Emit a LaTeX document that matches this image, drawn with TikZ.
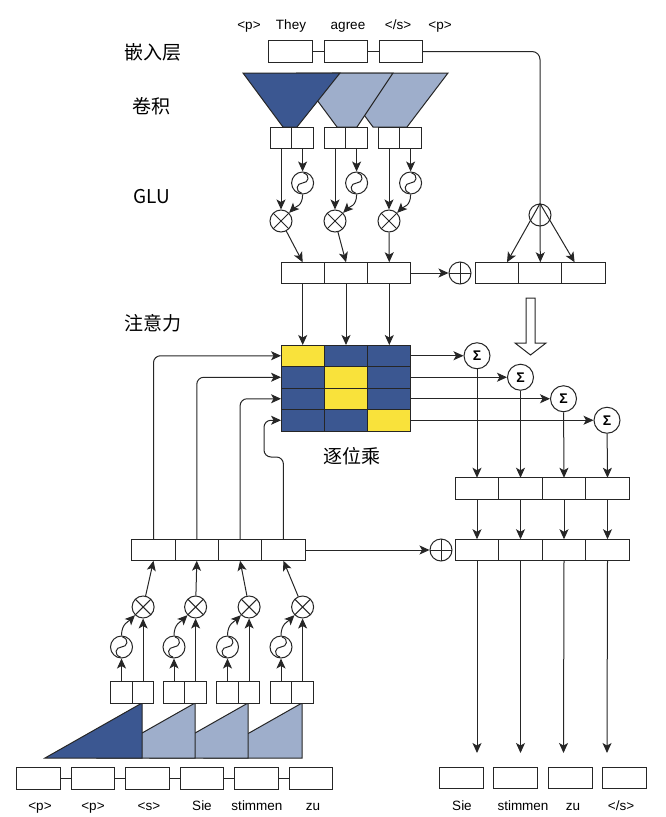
\documentclass[tikz,border=0pt]{standalone}
\usepackage{fontspec}
\setmainfont{Liberation Sans}
\newfontfamily\cjk{Noto Sans CJK SC}
\usepackage{tikz}
\usetikzlibrary{arrows.meta,positioning}
\definecolor{linec}{HTML}{262626}
\definecolor{darkblue}{HTML}{3B5791}
\definecolor{lightblue}{HTML}{9EAECB}
\definecolor{hotyellow}{HTML}{F9E23B}

\begin{document}
\begin{tikzpicture}[x=1pt, y=-1pt, line width=1pt, draw=linec]
        \tikzset{arr/.style={-{Stealth[length=10pt,width=9pt,inset=2.5pt]}}}
        \tikzset{box/.style={draw=linec, fill=white, minimum width=43.3pt, minimum height=21.5pt, inner sep=0pt, outer sep=0pt}}
        \tikzset{halfbox/.style={box, minimum width=21.6pt}}
        \tikzset{cellB/.style={box, fill=darkblue}}
        \tikzset{cellY/.style={box, fill=hotyellow}}
        \tikzset{mult/.style={circle, draw=linec, fill=white, minimum size=22pt, inner sep=0pt,
            path picture={\draw [linec] (path picture bounding box.north west) -- (path picture bounding box.south east)
                (path picture bounding box.north east) -- (path picture bounding box.south west);}}}
        \tikzset{addnode/.style={circle, draw=linec, fill=white, minimum size=22pt, inner sep=0pt,
            path picture={\draw [linec] (path picture bounding box.north) -- (path picture bounding box.south)
                (path picture bounding box.east) -- (path picture bounding box.west);}}}
        \tikzset{sigm/.style={circle, draw=linec, fill=white, minimum size=22pt, inner sep=0pt,
            path picture={\draw [linec, shift={(path picture bounding box.center)}] (-1,10) .. controls (-8,8) and (-6,0) .. (0,0) .. controls (6,0) and (8,-8) .. (1,-10);}}}
        \tikzset{attn/.style={circle, draw=linec, minimum size=22pt, inner sep=0pt}}
        \tikzset{sumnode/.style={circle, draw=linec, fill=white, minimum size=26pt, inner sep=0pt, font=\bfseries\fontsize{14}{14}\selectfont}}
        \tikzset{word/.style={inner sep=0pt, anchor=base, font=\fontsize{13.5}{15}\selectfont}}
        \tikzset{layer/.style={inner sep=0pt, font=\cjk\fontsize{19}{21}\selectfont}}

        \useasboundingbox (0,0) rectangle (666,817);

        % layer names
        \node [layer] (lemb) at (153,52) {嵌入层};
        \node [layer] (lconv) at (151,106) {卷积};
        \node [layer] (lglu) at (152,197) {GLU};
        \node [layer] (latt) at (153,323) {注意力};
        \node [layer] (lprod) at (352,456) {逐位乘};

        % encoder
        \node [word] (sw0) at (249,29.5) {<p>};
        \node [word] (sw1) at (291,29.5) {They};
        \node [word] (sw2) at (348,29.5) {agree};
        \node [word] (sw3) at (398,29.5) {</s>};
        \node [word] (sw4) at (440,29.5) {<p>};

        \node [box] (e1) at (290.5,51.5) {};
        \node [box, right=12pt of e1] (e2) {};
        \node [box, right=12pt of e2] (e3) {};
        \draw (e1) -- (e2);
        \draw (e2) -- (e3);

        \filldraw [fill=lightblue] (333,73) -- (448,73) -- (407,127) -- (373,127) -- cycle;
        \filldraw [fill=lightblue] (297,73) -- (393,73) -- (357,127) -- (337,127) -- cycle;
        \filldraw [fill=darkblue] (243,73) -- (340,73) -- (297,127) -- (283,127) -- cycle;

        \node [halfbox] (c1a) at (281,138) {};
        \node [halfbox, right=0pt of c1a] (c1b) {};
        \node [halfbox] (c2a) at (335,138) {};
        \node [halfbox, right=0pt of c2a] (c2b) {};
        \node [halfbox] (c3a) at (389,138) {};
        \node [halfbox, right=0pt of c3a] (c3b) {};

        \node [sigm] (s1) at (302.6,183) {};
        \node [sigm] (s2) at (356.6,183) {};
        \node [sigm] (s3) at (410.6,183) {};
        \node [mult] (m1) at (281,221) {};
        \node [mult] (m2) at (335,221) {};
        \node [mult] (m3) at (389,221) {};

        \draw [arr] (c1a.south) -- (m1);
        \draw [arr] (c2a.south) -- (m2);
        \draw [arr] (c3a.south) -- (m3);
        \draw [arr] (c1b.south) -- (s1);
        \draw [arr] (c2b.south) -- (s2);
        \draw [arr] (c3b.south) -- (s3);
        \draw [arr] (s1.south) .. controls +(0,12) and +(6,-6) .. (m1.north east);
        \draw [arr] (s2.south) .. controls +(0,12) and +(6,-6) .. (m2.north east);
        \draw [arr] (s3.south) .. controls +(0,12) and +(6,-6) .. (m3.north east);

        \node [box] (g1) at (302.7,273) {};
        \node [box, right=0pt of g1] (g2) {};
        \node [box, right=0pt of g2] (g3) {};
        \draw [arr] (m1) -- (g1.north);
        \draw [arr] (m2) -- (g2.north);
        \draw [arr] (m3) -- (g3.north);

        \node [addnode] (p1) at (460,273) {};
        \draw [arr] (g3.east) -- (p1);
        \node [box] (r1) at (497,273) {};
        \node [box, right=0pt of r1] (r2) {};
        \node [box, right=0pt of r2] (r3) {};

        \node [attn] (att) at (540,215) {};
        \draw [rounded corners=8pt] (e3.east) -| (att.north);
        \draw [arr] (att.north) -- (r2.north);
        \draw [arr] (att.north) -- ([xshift=10pt]r1.north);
        \draw [arr] (att.north) -- ([xshift=-9pt]r3.north);

        \filldraw [fill=white] (526,298) -- (535,298) -- (535,343) -- (546,343) -- (530.5,355) -- (515,343) -- (526,343) -- cycle;

        % attention
        \node [cellY] (a11) at (302.7,355.75) {};
        \node [cellB, right=0pt of a11] (a12) {};
        \node [cellB, right=0pt of a12] (a13) {};
        \node [cellB] (a21) at (302.7,377.25) {};
        \node [cellY, right=0pt of a21] (a22) {};
        \node [cellB, right=0pt of a22] (a23) {};
        \node [cellB] (a31) at (302.7,398.75) {};
        \node [cellY, right=0pt of a31] (a32) {};
        \node [cellB, right=0pt of a32] (a33) {};
        \node [cellB] (a41) at (302.7,420.25) {};
        \node [cellB, right=0pt of a41] (a42) {};
        \node [cellY, right=0pt of a42] (a43) {};
        \draw [arr] (g1.south) -- (a11.north);
        \draw [arr] (g2.south) -- (a12.north);
        \draw [arr] (g3.south) -- (a13.north);

        \node [sumnode] (S1) at (477,355.75) {Σ};
        \node [sumnode] (S2) at (520.5,377.25) {Σ};
        \node [sumnode] (S3) at (563.5,398.75) {Σ};
        \node [sumnode] (S4) at (607,420.25) {Σ};
        \draw [arr] (a13.east) -- (S1);
        \draw [arr] (a23.east) -- (S2);
        \draw [arr] (a33.east) -- (S3);
        \draw [arr] (a43.east) -- (S4);

        \node [box, minimum width=43.5pt] (u1) at (477,488.5) {};
        \node [box, minimum width=43.5pt, right=0pt of u1] (u2) {};
        \node [box, minimum width=43.5pt, right=0pt of u2] (u3) {};
        \node [box, minimum width=43.5pt, right=0pt of u3] (u4) {};
        \draw [arr] (S1) -- (u1.north);
        \draw [arr] (S2) -- (u2.north);
        \draw [arr] (S3) -- (u3.north);
        \draw [arr] (S4) -- (u4.north);

        \node [box, minimum width=43.5pt] (l1) at (477,550) {};
        \node [box, minimum width=43.5pt, right=0pt of l1] (l2) {};
        \node [box, minimum width=43.5pt, right=0pt of l2] (l3) {};
        \node [box, minimum width=43.5pt, right=0pt of l3] (l4) {};
        \draw [arr] (u1) -- (l1);
        \draw [arr] (u2) -- (l2);
        \draw [arr] (u3) -- (l3);
        \draw [arr] (u4) -- (l4);
        \node [addnode] (p2) at (441,550) {};

        % output
        \coordinate (t1) at (477,753);
        \coordinate (t2) at (520.5,753);
        \coordinate (t3) at (563.5,753);
        \coordinate (t4) at (607,753);
        \draw [arr] (l1.south) -- (t1);
        \draw [arr] (l2.south) -- (t2);
        \draw [arr] (l3.south) -- (t3);
        \draw [arr] (l4.south) -- (t4);

        \node [box, minimum width=44pt] (o1) at (461,778) {};
        \node [box, minimum width=44pt, right=10.5pt of o1] (o2) {};
        \node [box, minimum width=44pt, right=10.5pt of o2] (o3) {};
        \node [box, minimum width=44pt, right=10.5pt of o3] (o4) {};
        \node [word] (ow1) at (462,810) {Sie};
        \node [word] (ow2) at (523,810) {stimmen};
        \node [word] (ow3) at (573,810) {zu};
        \node [word] (ow4) at (621,810) {</s>};

        % decoder
        \node [box, minimum width=43.5pt] (d1) at (38.5,778.5) {};
        \node [box, minimum width=43.5pt, right=11pt of d1] (d2) {};
        \node [box, minimum width=43.5pt, right=11pt of d2] (d3) {};
        \node [box, minimum width=43.5pt, right=11pt of d3] (d4) {};
        \node [box, minimum width=43.5pt, right=11pt of d4] (d5) {};
        \node [box, minimum width=43.5pt, right=11pt of d5] (d6) {};
        \draw (d1) -- (d2);
        \draw (d2) -- (d3);
        \draw (d3) -- (d4);
        \draw (d4) -- (d5);
        \draw (d5) -- (d6);
        \node [word] (tw1) at (40,810) {<p>};
        \node [word] (tw2) at (93,810) {<p>};
        \node [word] (tw3) at (149,810) {<s>};
        \node [word] (tw4) at (202,810) {Sie};
        \node [word] (tw5) at (257,810) {stimmen};
        \node [word] (tw6) at (313,810) {zu};

        \filldraw [fill=lightblue] (205,758) -- (302,703) -- (302,758) -- cycle;
        \filldraw [fill=lightblue] (151,758) -- (248,703) -- (248,758) -- cycle;
        \filldraw [fill=lightblue] (98,758) -- (195,703) -- (195,758) -- cycle;
        \filldraw [fill=darkblue] (45,758) -- (142,703) -- (142,758) -- cycle;

        \node [halfbox] (k1a) at (121.5,692.5) {};
        \node [halfbox, right=0pt of k1a] (k1b) {};
        \node [halfbox] (k2a) at (174,692.5) {};
        \node [halfbox, right=0pt of k2a] (k2b) {};
        \node [halfbox] (k3a) at (227.5,692.5) {};
        \node [halfbox, right=0pt of k3a] (k3b) {};
        \node [halfbox] (k4a) at (281,692.5) {};
        \node [halfbox, right=0pt of k4a] (k4b) {};

        \node [sigm] (q1) at (121.5,647) {};
        \node [sigm] (q2) at (174,647) {};
        \node [sigm] (q3) at (227.5,647) {};
        \node [sigm] (q4) at (281,647) {};
        \node [mult] (x1) at (143.1,607) {};
        \node [mult] (x2) at (195.6,607) {};
        \node [mult] (x3) at (249.1,607) {};
        \node [mult] (x4) at (302.6,607) {};

        \draw [arr] (k1a.north) -- (q1);
        \draw [arr] (k2a.north) -- (q2);
        \draw [arr] (k3a.north) -- (q3);
        \draw [arr] (k4a.north) -- (q4);
        \draw [arr] (k1b.north) -- (x1);
        \draw [arr] (k2b.north) -- (x2);
        \draw [arr] (k3b.north) -- (x3);
        \draw [arr] (k4b.north) -- (x4);
        \draw [arr] (q1.north) .. controls +(0,-12) and +(-6,6) .. (x1.south west);
        \draw [arr] (q2.north) .. controls +(0,-12) and +(-6,6) .. (x2.south west);
        \draw [arr] (q3.north) .. controls +(0,-12) and +(-6,6) .. (x3.south west);
        \draw [arr] (q4.north) .. controls +(0,-12) and +(-6,6) .. (x4.south west);

        \node [box] (b1) at (153.5,550) {};
        \node [box, right=0pt of b1] (b2) {};
        \node [box, right=0pt of b2] (b3) {};
        \node [box, right=0pt of b3] (b4) {};
        \draw [arr] (x1) -- (b1.south);
        \draw [arr] (x2) -- (b2.south);
        \draw [arr] (x3) -- (b3.south);
        \draw [arr] (x4) -- (b4.south);
        \draw [arr] (b4.east) -- (p2);

        \coordinate (jog) at (264,457);
        \draw [arr, rounded corners=7pt] (b1.north) |- (a11.west);
        \draw [arr, rounded corners=7pt] (b2.north) |- (a21.west);
        \draw [arr, rounded corners=7pt] (b3.north) |- (a31.west);
        \draw [arr, rounded corners=7pt] (b4.north) |- (jog) |- (a41.west);
    \end{tikzpicture}
\end{document}
